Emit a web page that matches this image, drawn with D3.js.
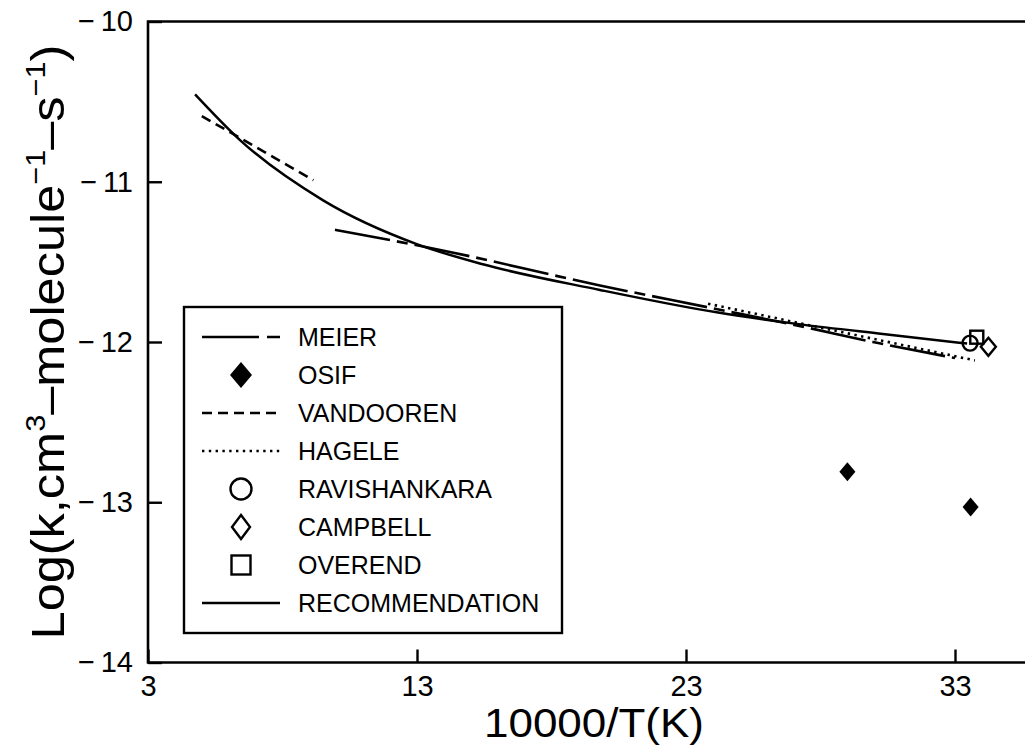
<!DOCTYPE html>
<html>
<head>
<meta charset="utf-8">
<script src="https://cdn.jsdelivr.net/npm/d3@7"></script>
<style>
  html, body { margin: 0; padding: 0; background: #fff; }
  svg { display: block; font-family: "Liberation Sans", Arial, sans-serif; }
</style>
</head>
<body>
<svg id="chart" width="1025" height="749"></svg>
<script>
// --- data ---
const xTicks = [3, 13, 23, 33];
const yTicks = [-10, -11, -12, -13, -14];

// recommendation curve
const recX = [4.75, 6.42, 9.51, 12.99, 15.45, 19.80, 24.14, 27.27, 30.32, 33.45];
const recY = [-10.455, -10.74, -11.116, -11.389, -11.515, -11.675, -11.815, -11.89, -11.95, -12.01];

// Meier (long dash - short dash)
const meierX = [9.95, 13.59, 19.80, 24.0, 27.5, 29.95, 33.0];
const meierY = [-11.30, -11.416, -11.647, -11.79, -11.91, -12.0, -12.10];

// Vandooren (dashed)
const vandoorenX = [5.0, 9.15];
const vandoorenY = [-10.59, -10.99];

// Hagele (dotted)
const hageleX = [23.82, 33.74];
const hageleY = [-11.761, -12.115];

// point data
const osifX = [29.0, 33.58];
const osifY = [-12.81, -13.03];
const ravishankaraX = [33.56];
const ravishankaraY = [-12.007];
const campbellX = [34.24];
const campbellY = [-12.03];
const overendX = [33.81];
const overendY = [-11.97];

const legendLabels = ['MEIER', 'OSIF', 'VANDOOREN', 'HAGELE', 'RAVISHANKARA', 'CAMPBELL', 'OVEREND', 'RECOMMENDATION'];

// --- layout ---
const svg = d3.select('#chart');
const mLeft = 148, mTop = 21.5, mBottom = 662.5;

const x = d3.scaleLinear().domain([3, 36]).range([mLeft, mLeft + 33 * 26.9]);
const y = d3.scaleLinear().domain([-10, -14]).range([mTop, mBottom]);

const zip = (xs, ys) => xs.map((v, i) => [v, ys[i]]);
const fmt = d => d < 0 ? '\u2212\u2009' + Math.abs(d) : String(d);

// frame
const frame = svg.append('g').attr('stroke', '#000').attr('stroke-width', 2.6).attr('fill', 'none');
frame.append('path').attr('d', `M1025,${mTop}H${mLeft}V${mBottom}H1025`);

// axes
const yAxis = svg.append('g')
  .attr('transform', `translate(${mLeft},0)`)
  .call(d3.axisLeft(y).tickValues(yTicks).tickSize(-14).tickPadding(15).tickFormat(fmt));
yAxis.attr('font-size', 29).attr('font-family', '"Liberation Sans", Arial, sans-serif');
yAxis.select('.domain').remove();
yAxis.selectAll('line').attr('stroke', '#000').attr('stroke-width', 2.4);
yAxis.selectAll('text').attr('fill', '#000');

const xAxis = svg.append('g')
  .attr('transform', `translate(0,${mBottom})`)
  .call(d3.axisBottom(x).tickValues(xTicks).tickSize(-13).tickPadding(13).tickFormat(fmt));
xAxis.attr('font-size', 29).attr('font-family', '"Liberation Sans", Arial, sans-serif');
xAxis.select('.domain').remove();
xAxis.selectAll('line').attr('stroke', '#000').attr('stroke-width', 2.4);
xAxis.selectAll('text').attr('fill', '#000');

// axis titles
svg.append('text')
  .attr('x', 594).attr('y', 737)
  .attr('text-anchor', 'middle')
  .attr('font-size', 40)
  .attr('textLength', 220).attr('lengthAdjust', 'spacingAndGlyphs')
  .text('10000/T(K)');

const yTitle = svg.append('g').attr('transform', 'translate(64,342) rotate(-90)');
const yt = yTitle.append('text').attr('text-anchor', 'middle').attr('font-size', 46);
yt.append('tspan').text('Log(k,cm');
yt.append('tspan').attr('font-size', 28).attr('dy', -19).text('3');
yt.append('tspan').attr('dy', 19).text('\u2013molecule');
yt.append('tspan').attr('font-size', 28).attr('dy', -19).text('\u22121');
yt.append('tspan').attr('dy', 19).text('\u2013s');
yt.append('tspan').attr('font-size', 28).attr('dy', -19).text('\u22121');
yt.append('tspan').attr('dy', 19).text(')');
const ytw = yt.node().getBBox().width;
yTitle.attr('transform', `translate(64,342) rotate(-90) scale(${595 / ytw},1)`);

// --- curves ---
const line = d3.line().x(d => x(d[0])).y(d => y(d[1])).curve(d3.curveMonotoneX);
const plot = svg.append('g').attr('fill', 'none').attr('stroke', '#000');

plot.append('path').datum(zip(recX, recY)).attr('d', line).attr('stroke-width', 2.5);
plot.append('path').datum(zip(meierX, meierY)).attr('d', line)
  .attr('stroke-width', 2.6).attr('stroke-dasharray', '56,7,11,7');
plot.append('path').datum(zip(vandoorenX, vandoorenY)).attr('d', line)
  .attr('stroke-width', 2.6).attr('stroke-dasharray', '10,6');
plot.append('path').datum(zip(hageleX, hageleY)).attr('d', line)
  .attr('stroke-width', 2.6).attr('stroke-dasharray', '2.4,4.4');

// --- markers ---
const diamond = (w, h) => `M0,${-h / 2}L${w / 2},0L0,${h / 2}L${-w / 2},0Z`;

svg.append('g').selectAll('path').data(zip(osifX, osifY)).join('path')
  .attr('transform', d => `translate(${x(d[0])},${y(d[1])})`)
  .attr('d', diamond(16, 19)).attr('fill', '#000');

svg.append('g').selectAll('circle').data(zip(ravishankaraX, ravishankaraY)).join('circle')
  .attr('cx', d => x(d[0])).attr('cy', d => y(d[1])).attr('r', 7.5)
  .attr('fill', 'none').attr('stroke', '#000').attr('stroke-width', 2.4);

svg.append('g').selectAll('rect').data(zip(overendX, overendY)).join('rect')
  .attr('x', d => x(d[0]) - 6.5).attr('y', d => y(d[1]) - 6.5)
  .attr('width', 13).attr('height', 13)
  .attr('fill', 'none').attr('stroke', '#000').attr('stroke-width', 2.4);

svg.append('g').selectAll('path').data(zip(campbellX, campbellY)).join('path')
  .attr('transform', d => `translate(${x(d[0])},${y(d[1])})`)
  .attr('d', diamond(15, 18)).attr('fill', 'none').attr('stroke', '#000').attr('stroke-width', 2.4);

// --- legend ---
const legend = svg.append('g');
legend.append('rect')
  .attr('x', 184).attr('y', 307).attr('width', 378).attr('height', 326)
  .attr('fill', '#fff').attr('stroke', '#000').attr('stroke-width', 2.4);

const rowY = i => 337 + i * 38;
const lx0 = 202, lx1 = 280, lxc = 241;

legend.selectAll('text.lab').data(legendLabels).join('text')
  .attr('class', 'lab')
  .attr('x', 298).attr('y', (d, i) => rowY(i) + 9)
  .attr('font-size', 25).attr('fill', '#000')
  .text(d => d);

const seg = (i, dash) => legend.append('line')
  .attr('x1', lx0).attr('x2', lx1).attr('y1', rowY(i)).attr('y2', rowY(i))
  .attr('stroke', '#000').attr('stroke-width', 2.4).attr('stroke-dasharray', dash);

seg(0, '57,8,13,0');
seg(2, '10,6');
seg(3, '2.4,4.4');
seg(7, null);

legend.append('path').attr('transform', `translate(${lxc},${rowY(1)})`)
  .attr('d', diamond(22, 26)).attr('fill', '#000');
legend.append('circle').attr('cx', lxc).attr('cy', rowY(4)).attr('r', 10.5)
  .attr('fill', 'none').attr('stroke', '#000').attr('stroke-width', 2.4);
legend.append('path').attr('transform', `translate(${lxc},${rowY(5)})`)
  .attr('d', diamond(18, 24)).attr('fill', 'none').attr('stroke', '#000').attr('stroke-width', 2.4);
legend.append('rect').attr('x', lxc - 9.5).attr('y', rowY(6) - 9.5).attr('width', 19).attr('height', 19)
  .attr('fill', 'none').attr('stroke', '#000').attr('stroke-width', 2.4);
</script>
</body>
</html>
